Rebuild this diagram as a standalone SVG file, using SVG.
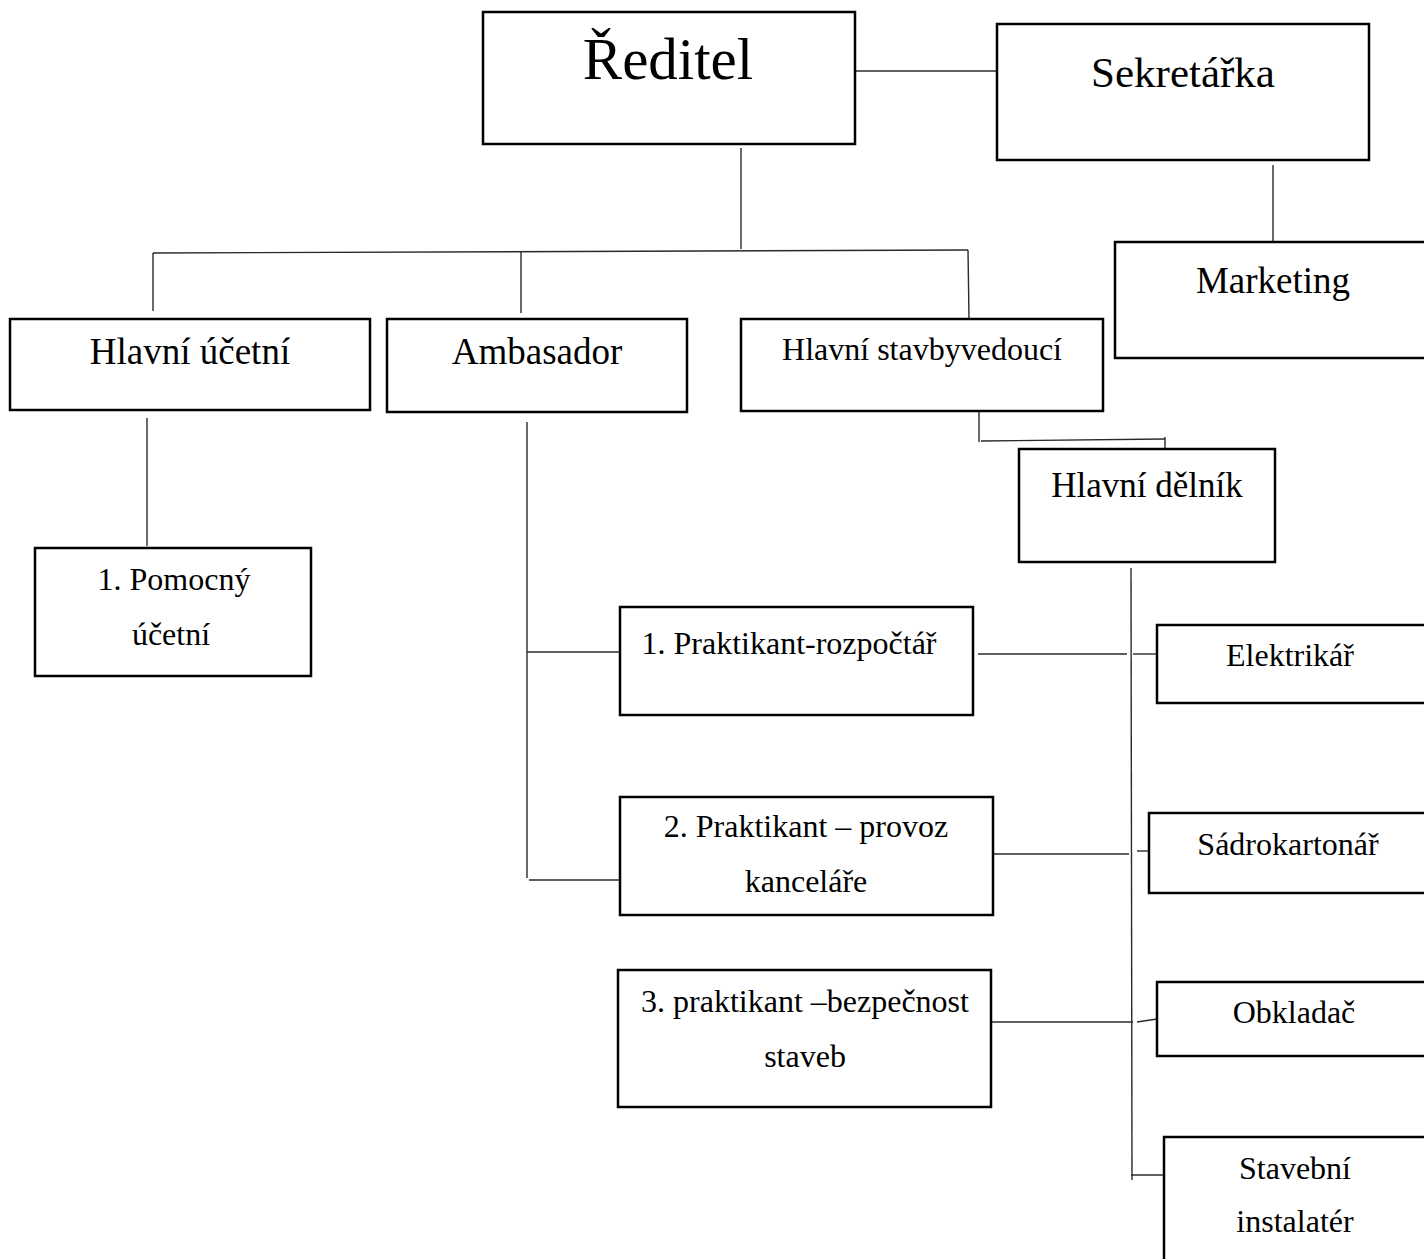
<svg xmlns="http://www.w3.org/2000/svg" width="1424" height="1259" viewBox="0 0 1424 1259">
  <style>
    .box { fill: #ffffff; stroke: #000000; stroke-width: 2.5; }
    .lbl { font-family: "Liberation Serif", "Times New Roman", serif; fill: #000000; text-anchor: middle; }
    #connectors line { stroke: #2a2a2a; stroke-width: 1.4; fill: none; }
  </style>
  <rect width="1424" height="1259" fill="#ffffff"/>

  <!-- connectors -->
  <g id="connectors">
    <!-- director to secretary -->
    <line x1="855" y1="71" x2="1006" y2="71"/>
    <!-- secretary to marketing -->
    <line x1="1273" y1="165" x2="1273" y2="242"/>
    <!-- director down to the bus -->
    <line x1="741" y1="148" x2="741" y2="249"/>
    <line x1="153" y1="253" x2="968" y2="250"/>
    <line x1="153" y1="253" x2="153" y2="311"/>
    <line x1="521" y1="252" x2="521" y2="313"/>
    <line x1="968" y1="250" x2="969" y2="318"/>
    <!-- chief accountant to assistant -->
    <line x1="147" y1="418" x2="147" y2="546"/>
    <!-- ambassador to trainees -->
    <line x1="527" y1="422" x2="527" y2="878"/>
    <line x1="527" y1="652" x2="620" y2="652"/>
    <line x1="529" y1="880" x2="620" y2="880"/>
    <!-- site manager to head worker -->
    <line x1="979" y1="406" x2="979" y2="442"/>
    <line x1="981" y1="441" x2="1165" y2="439"/>
    <line x1="1165" y1="437" x2="1165" y2="451"/>
    <!-- head worker trunk -->
    <line x1="1131" y1="568" x2="1132" y2="1180"/>
    <!-- trainees to trades -->
    <line x1="978" y1="654" x2="1127" y2="654"/>
    <line x1="1133" y1="654" x2="1157" y2="654"/>
    <line x1="988" y1="854" x2="1129" y2="854"/>
    <line x1="1137" y1="851" x2="1155" y2="851"/>
    <line x1="991" y1="1022" x2="1133" y2="1022"/>
    <line x1="1137" y1="1022" x2="1157" y2="1019"/>
    <line x1="1131" y1="1175" x2="1164" y2="1175"/>
  </g>

  <g id="reditel">
    <rect class="box" x="483" y="12" width="372" height="132"/>
    <text class="lbl" x="668" y="79" font-size="59">Ředitel</text>
  </g>

  <g id="sekretarka">
    <rect class="box" x="997" y="24" width="372" height="136"/>
    <text class="lbl" x="1183" y="87" font-size="43">Sekretářka</text>
  </g>

  <g id="marketing">
    <rect class="box" x="1115" y="242" width="320" height="116"/>
    <text class="lbl" x="1273" y="293" font-size="37">Marketing</text>
  </g>

  <g id="hlavni-ucetni">
    <rect class="box" x="10" y="319" width="360" height="91"/>
    <text class="lbl" x="190" y="364" font-size="37">Hlavní účetní</text>
  </g>

  <g id="ambasador">
    <rect class="box" x="387" y="319" width="300" height="93"/>
    <text class="lbl" x="537" y="364" font-size="37">Ambasador</text>
  </g>

  <g id="hlavni-stavbyvedouci">
    <rect class="box" x="741" y="319" width="362" height="92"/>
    <text class="lbl" x="922" y="360" font-size="32">Hlavní stavbyvedoucí</text>
  </g>

  <g id="pomocny-ucetni">
    <rect class="box" x="35" y="548" width="276" height="128"/>
    <text class="lbl" x="174" y="590" font-size="32">1. Pomocný</text>
    <text class="lbl" x="171" y="645" font-size="32">účetní</text>
  </g>

  <g id="hlavni-delnik">
    <rect class="box" x="1019" y="449" width="256" height="113"/>
    <text class="lbl" x="1147" y="497" font-size="35">Hlavní dělník</text>
  </g>

  <g id="praktikant-1">
    <rect class="box" x="620" y="607" width="353" height="108"/>
    <text class="lbl" x="789" y="654" font-size="32">1. Praktikant-rozpočtář</text>
  </g>

  <g id="praktikant-2">
    <rect class="box" x="620" y="797" width="373" height="118"/>
    <text class="lbl" x="806" y="837" font-size="32">2. Praktikant – provoz</text>
    <text class="lbl" x="806" y="892" font-size="32">kanceláře</text>
  </g>

  <g id="praktikant-3">
    <rect class="box" x="618" y="970" width="373" height="137"/>
    <text class="lbl" x="805" y="1012" font-size="32">3. praktikant –bezpečnost</text>
    <text class="lbl" x="805" y="1067" font-size="32">staveb</text>
  </g>

  <g id="elektrikar">
    <rect class="box" x="1157" y="625" width="280" height="78"/>
    <text class="lbl" x="1290" y="666" font-size="32">Elektrikář</text>
  </g>

  <g id="sadrokartonar">
    <rect class="box" x="1149" y="813" width="290" height="80"/>
    <text class="lbl" x="1288" y="855" font-size="32">Sádrokartonář</text>
  </g>

  <g id="obkladac">
    <rect class="box" x="1157" y="982" width="280" height="74"/>
    <text class="lbl" x="1294" y="1023" font-size="32">Obkladač</text>
  </g>

  <g id="stavebni-instalater">
    <rect class="box" x="1164" y="1137" width="280" height="140"/>
    <text class="lbl" x="1295" y="1179" font-size="32">Stavební</text>
    <text class="lbl" x="1295" y="1232" font-size="32">instalatér</text>
  </g>
</svg>
